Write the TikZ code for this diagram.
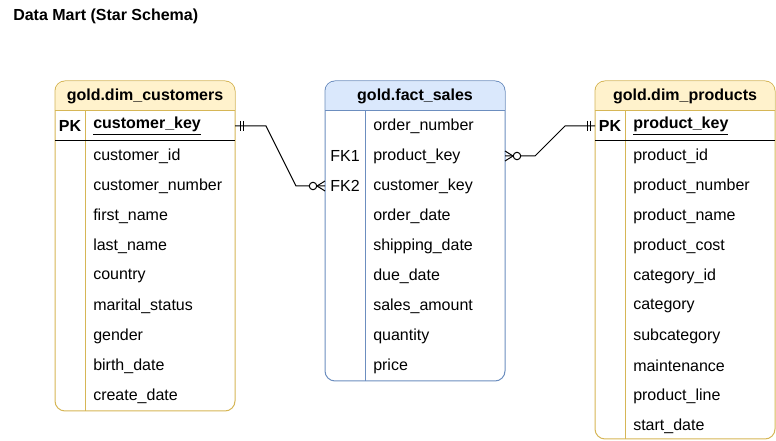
\documentclass[tikz,border=0pt]{standalone}
\usepackage{fontspec}
\setmainfont{Liberation Sans}
\usetikzlibrary{positioning,calc}
\definecolor{dimfill}{HTML}{FFF2CC}
\definecolor{dimline}{HTML}{D6B656}
\definecolor{factfill}{HTML}{DAE8FC}
\definecolor{factline}{HTML}{6C8EBF}

\begin{document}
\begin{tikzpicture}[
    x=0.75pt, y=-0.75pt,
    every node/.style={font=\fontsize{12}{14}\selectfont},
    table/.style={draw, fill=white, line width=0.75pt, rounded corners=7.5pt,
        minimum width=135pt, anchor=north west, inner sep=0pt, outer sep=0pt},
    header/.style={font=\fontsize{12}{14}\selectfont\bfseries},
    field/.style={anchor=west, inner sep=0pt},
    keyname/.style={inner sep=0pt},
    rel/.style={line width=0.75pt, black}
]
    \useasboundingbox (0,0) rectangle (776,441);
    \node[anchor=west, inner sep=0pt, font=\fontsize{12}{14}\selectfont\bfseries] (title) at (13,16) {Data Mart (Star Schema)};

    % customers
    \node[table, draw=dimline, minimum height=247.5pt] (cust) at (55,81) {};
    \fill[dimfill] ($(cust.north west)+(0.5,30)$) [rounded corners=7pt]
        -- ($(cust.north west)+(0.5,0.5)$) -- ($(cust.north east)+(-0.5,0.5)$) [sharp corners]
        -- ($(cust.north east)+(-0.5,30)$) -- cycle;
    \draw[dimline, line width=0.75pt] ($(cust.north west)+(0,30)$) -- ($(cust.north east)+(0,30)$);
    \draw[dimline, line width=0.75pt] ($(cust.north west)+(30,30)$) -- ($(cust.south west)+(30,0)$);
    \draw[black, line width=0.75pt] ($(cust.north west)+(0,60)$) -- ($(cust.north east)+(0,60)$);
    \node[header] (cust-head) at ($(cust.north)+(0,15)$) {gold.dim\_customers};
    \node[keyname, font=\fontsize{12}{14}\selectfont\bfseries] (cust-pk) at ($(cust.north west)+(15,45)$) {PK};
    \node[field] (cust-1) at ($(cust.north west)+(38,45)$) {\underline{\textbf{customer\_key}}};
    \foreach \name [count=\i from 2] in {customer\_id, customer\_number, first\_name, last\_name,
        country, marital\_status, gender, birth\_date, create\_date}
        \node[field] (cust-\i) at ($(cust.north west)+(38,15+30*\i)$) {\name};

    % fact
    \node[table, draw=factline, minimum height=225pt] (fact) at (325,81) {};
    \fill[factfill] ($(fact.north west)+(0.5,30)$) [rounded corners=7pt]
        -- ($(fact.north west)+(0.5,0.5)$) -- ($(fact.north east)+(-0.5,0.5)$) [sharp corners]
        -- ($(fact.north east)+(-0.5,30)$) -- cycle;
    \draw[factline, line width=0.75pt] ($(fact.north west)+(0,30)$) -- ($(fact.north east)+(0,30)$);
    \draw[factline, line width=0.75pt] ($(fact.north west)+(40,30)$) -- ($(fact.south west)+(40,0)$);
    \node[header] (fact-head) at ($(fact.north)+(0,15)$) {gold.fact\_sales};
    \foreach \name [count=\i] in {order\_number, product\_key, customer\_key, order\_date,
        shipping\_date, due\_date, sales\_amount, quantity, price}
        \node[field] (fact-\i) at ($(fact.north west)+(48,15+30*\i)$) {\name};
    \node[keyname] (fact-fk1) at ($(fact.north west)+(20,75)$) {FK1};
    \node[keyname] (fact-fk2) at ($(fact.north west)+(20,105)$) {FK2};

    % products
    \node[table, draw=dimline, minimum height=268.5pt] (prod) at (595,81) {};
    \fill[dimfill] ($(prod.north west)+(0.5,30)$) [rounded corners=7pt]
        -- ($(prod.north west)+(0.5,0.5)$) -- ($(prod.north east)+(-0.5,0.5)$) [sharp corners]
        -- ($(prod.north east)+(-0.5,30)$) -- cycle;
    \draw[dimline, line width=0.75pt] ($(prod.north west)+(0,30)$) -- ($(prod.north east)+(0,30)$);
    \draw[dimline, line width=0.75pt] ($(prod.north west)+(30,30)$) -- ($(prod.south west)+(30,0)$);
    \draw[black, line width=0.75pt] ($(prod.north west)+(0,60)$) -- ($(prod.north east)+(0,60)$);
    \node[header] (prod-head) at ($(prod.north)+(0,15)$) {gold.dim\_products};
    \node[keyname, font=\fontsize{12}{14}\selectfont\bfseries] (prod-pk) at ($(prod.north west)+(15,45)$) {PK};
    \node[field] (prod-1) at ($(prod.north west)+(38,45)$) {\underline{\textbf{product\_key}}};
    \foreach \name [count=\i from 2] in {product\_id, product\_number, product\_name, product\_cost,
        category\_id, category, subcategory, maintenance, product\_line, start\_date}
        \node[field] (prod-\i) at ($(prod.north west)+(38,15+30*\i)$) {\name};

    % relations
    \coordinate (c1) at (cust.east |- cust-1);
    \coordinate (f3) at (fact.west |- fact-3);
    \coordinate (f2) at (fact.east |- fact-2);
    \coordinate (p1) at (prod.west |- prod-1);

    \draw[rel] (c1) -- ++(31,0) -- ($(f3)+(-29,0)$) -- (f3);
    \draw[rel] ($(c1)+(5,-5)$) -- ++(0,10) ($(c1)+(8,-5)$) -- ++(0,10);
    \draw[rel] ($(f3)+(-8,0)$) -- ++(8,-5) ($(f3)+(-8,0)$) -- ++(8,5);
    \draw[rel, fill=white] ($(f3)+(-12,0)$) circle[radius=2.8pt];

    \draw[rel] (f2) -- ++(30,0) -- ($(p1)+(-30,0)$) -- (p1);
    \draw[rel] ($(p1)+(-5,-5)$) -- ++(0,10) ($(p1)+(-8,-5)$) -- ++(0,10);
    \draw[rel] ($(f2)+(8,0)$) -- ++(-8,-5) ($(f2)+(8,0)$) -- ++(-8,5);
    \draw[rel, fill=white] ($(f2)+(12,0)$) circle[radius=2.8pt];
\end{tikzpicture}
\end{document}
